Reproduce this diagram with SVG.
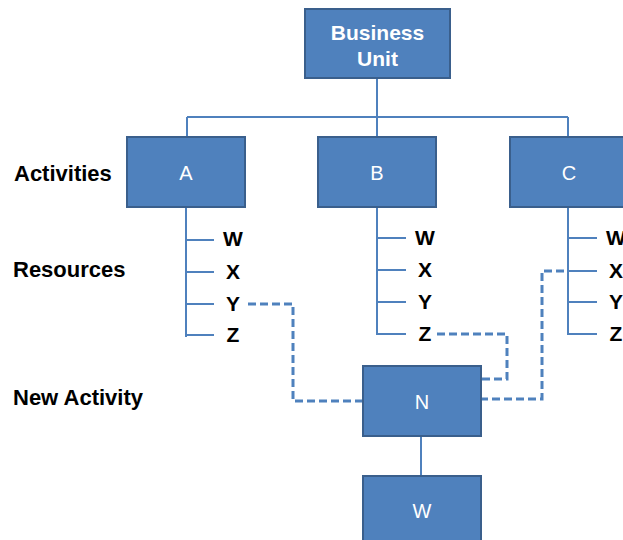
<svg xmlns="http://www.w3.org/2000/svg" width="623" height="540" viewBox="0 0 623 540">
<style>
.box{fill:#4F81BD;stroke:#3A5F8C;stroke-width:2}
.bt{fill:#fff;font-family:"Liberation Sans",Arial,sans-serif;font-size:20px;text-anchor:middle}
.bb{font-weight:bold;font-size:21px}
.ln{fill:none;stroke:#4F81BD;stroke-width:2}
.dl{fill:none;stroke:#4F81BD;stroke-width:3;stroke-dasharray:8,4}
.lbl{fill:#000;font-family:"Liberation Sans",Arial,sans-serif;font-size:22px;font-weight:bold}
.rs{fill:#000;font-family:"Liberation Sans",Arial,sans-serif;font-size:21px;font-weight:bold;text-anchor:middle}
</style>
<rect width="623" height="540" fill="#fff"/>
<g id="connectors">
<path class="ln" d="M377,78V137M187,117H568M187,117V137M568,117V137"/>
<path class="ln" d="M186,207V337M186,240H214M186,272H214M186,304H214M186,335H214"/>
<path class="ln" d="M377,207V335M377,238H406M377,270H406M377,302H406M377,334H406"/>
<path class="ln" d="M568,207V335M568,238H597M568,271H597M568,302H597M568,334H597"/>
<path class="ln" d="M421,436V476"/>
<path class="dl" d="M248,304H293V401H363"/>
<path class="dl" d="M437,334H507V379H481"/>
<path class="dl" d="M564,271H542V399H481"/>
</g>
<g id="labels">
<text class="lbl" x="14" y="181">Activities</text>
<text class="lbl" x="13" y="277">Resources</text>
<text class="lbl" x="13" y="405">New Activity</text>
</g>
<g id="node-bu"><rect class="box" x="305" y="9" width="145" height="69"/><text class="bt bb" x="377.5" y="40">Business</text><text class="bt bb" x="377.5" y="66">Unit</text></g>
<g id="node-a"><rect class="box" x="127" y="137" width="118" height="70"/><text class="bt" x="186" y="180">A</text></g>
<g id="node-b"><rect class="box" x="318" y="137" width="118" height="70"/><text class="bt" x="377" y="180">B</text></g>
<g id="node-c"><rect class="box" x="510" y="137" width="118" height="70"/><text class="bt" x="569" y="180">C</text></g>
<g id="res-a"><text class="rs" x="233" y="246">W</text><text class="rs" x="233" y="279">X</text><text class="rs" x="233" y="311">Y</text><text class="rs" x="233" y="342">Z</text></g>
<g id="res-b"><text class="rs" x="425" y="245">W</text><text class="rs" x="425" y="277">X</text><text class="rs" x="425" y="309">Y</text><text class="rs" x="425" y="341">Z</text></g>
<g id="res-c"><text class="rs" x="616" y="245">W</text><text class="rs" x="616" y="278">X</text><text class="rs" x="616" y="309">Y</text><text class="rs" x="616" y="341">Z</text></g>
<g id="node-n"><rect class="box" x="363" y="366" width="118" height="70"/><text class="bt" x="422" y="409">N</text></g>
<g id="node-w"><rect class="box" x="363" y="476" width="118" height="70"/><text class="bt" x="422" y="518">W</text></g>
</svg>
